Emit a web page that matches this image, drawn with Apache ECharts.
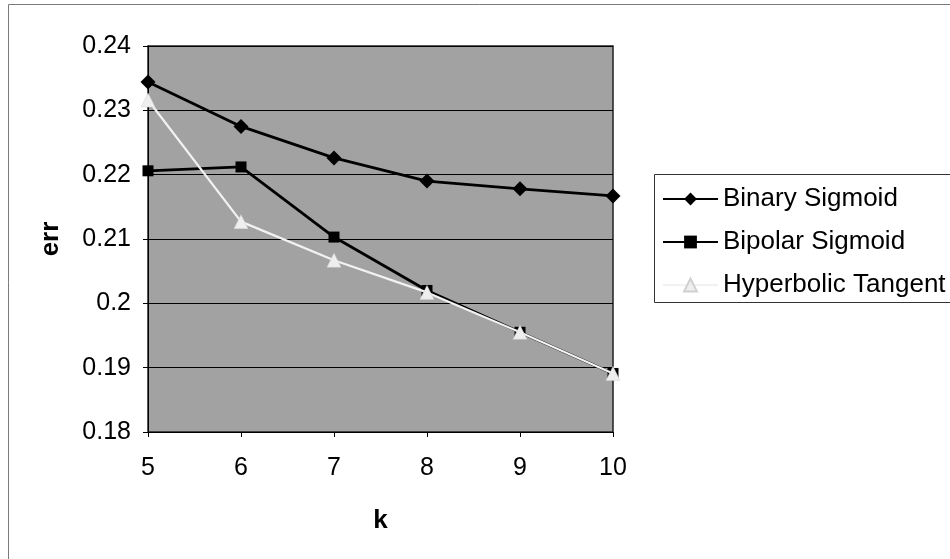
<!DOCTYPE html>
<html>
<head>
<meta charset="utf-8">
<script src="https://cdn.jsdelivr.net/npm/echarts@6/dist/echarts.min.js"></script>
<style>
  html, body { margin: 0; padding: 0; background: #fff; }
  #chart { width: 950px; height: 559px; }
</style>
</head>
<body>
<div id="chart"></div>
<script>
// k values on the x axis
const kValues = [5, 6, 7, 8, 9, 10];

// err per activation function
const binarySigmoid     = [0.2344, 0.2275, 0.2226, 0.2190, 0.2178, 0.2167];
const bipolarSigmoid    = [0.2206, 0.2212, 0.2103, 0.2020, 0.1955, 0.1891];
const hyperbolicTangent = [0.2316, 0.2127, 0.2067, 0.2017, 0.1955, 0.1891];

const seriesNames = ['Binary Sigmoid', 'Bipolar Sigmoid', 'Hyperbolic Tangent'];

const pairs = ys => kValues.map((k, i) => [k, ys[i]]);

const font = 'Liberation Sans, Arial, sans-serif';

const chart = echarts.init(document.getElementById('chart'), null, { renderer: 'canvas' });

chart.setOption({
  animation: false,
  backgroundColor: '#ffffff',
  textStyle: { fontFamily: font },
  graphic: [
    // outer chart frame
    { type: 'rect', shape: { x: 8.5, y: 4.5, width: 1000, height: 600 },
      style: { fill: 'none', stroke: '#7a7a7a', lineWidth: 1 }, silent: true },
    // legend frame
    { type: 'rect', shape: { x: 654.5, y: 174.5, width: 400, height: 128 },
      style: { fill: '#ffffff', stroke: '#333333', lineWidth: 1 }, silent: true, z: 0 }
  ],
  grid: {
    left: 148, right: 950 - 613, top: 46, bottom: 559 - 432,
    show: true, backgroundColor: '#a2a2a2', borderColor: '#222', borderWidth: 1.5
  },
  legend: {
    orient: 'vertical',
    left: 662, top: 186, padding: 0,
    itemWidth: 55, itemHeight: 16, itemGap: 17,
    textStyle: { fontFamily: font, fontSize: 26, color: '#000' },
    data: seriesNames,
    z: 5
  },
  xAxis: {
    type: 'value',
    min: 5, max: 10, interval: 1,
    name: 'k', nameLocation: 'middle', nameGap: 76,
    nameTextStyle: { fontFamily: font, fontSize: 26, fontWeight: 'bold', color: '#000' },
    axisLine: { show: true, lineStyle: { color: '#000', width: 1 } },
    axisTick: { show: true, length: 5, lineStyle: { color: '#000' } },
    axisLabel: { fontFamily: font, fontSize: 25, color: '#000', margin: 24 },
    splitLine: { show: false }
  },
  yAxis: {
    type: 'value',
    min: 0.18, max: 0.24, interval: 0.01,
    name: 'err', nameLocation: 'middle', nameGap: 84, nameRotate: 90,
    nameTextStyle: { fontFamily: font, fontSize: 26, fontWeight: 'bold', color: '#000' },
    axisLine: { show: true, lineStyle: { color: '#000', width: 1 } },
    axisTick: { show: true, length: 5, lineStyle: { color: '#000' } },
    axisLabel: {
      fontFamily: font, fontSize: 25, color: '#000', margin: 17,
      formatter: v => String(+v.toFixed(2))
    },
    splitLine: { show: true, lineStyle: { color: '#000', width: 1.2 } }
  },
  series: [
    {
      name: seriesNames[0], type: 'line', data: pairs(binarySigmoid),
      symbol: 'diamond', symbolSize: 15,
      lineStyle: { color: '#000', width: 2.8 },
      itemStyle: { color: '#000' }, z: 3
    },
    {
      name: seriesNames[1], type: 'line', data: pairs(bipolarSigmoid),
      symbol: 'rect', symbolSize: 11,
      lineStyle: { color: '#000', width: 2.8 },
      itemStyle: { color: '#000' }, z: 3
    },
    {
      name: seriesNames[2], type: 'line', data: pairs(hyperbolicTangent),
      symbol: 'triangle', symbolSize: 14,
      lineStyle: { color: '#f2f2f2', width: 2.2 },
      itemStyle: { color: '#eeeeee', borderColor: '#d0d0d0', borderWidth: 0.5 }, z: 4
    }
  ]
});
</script>
</body>
</html>
